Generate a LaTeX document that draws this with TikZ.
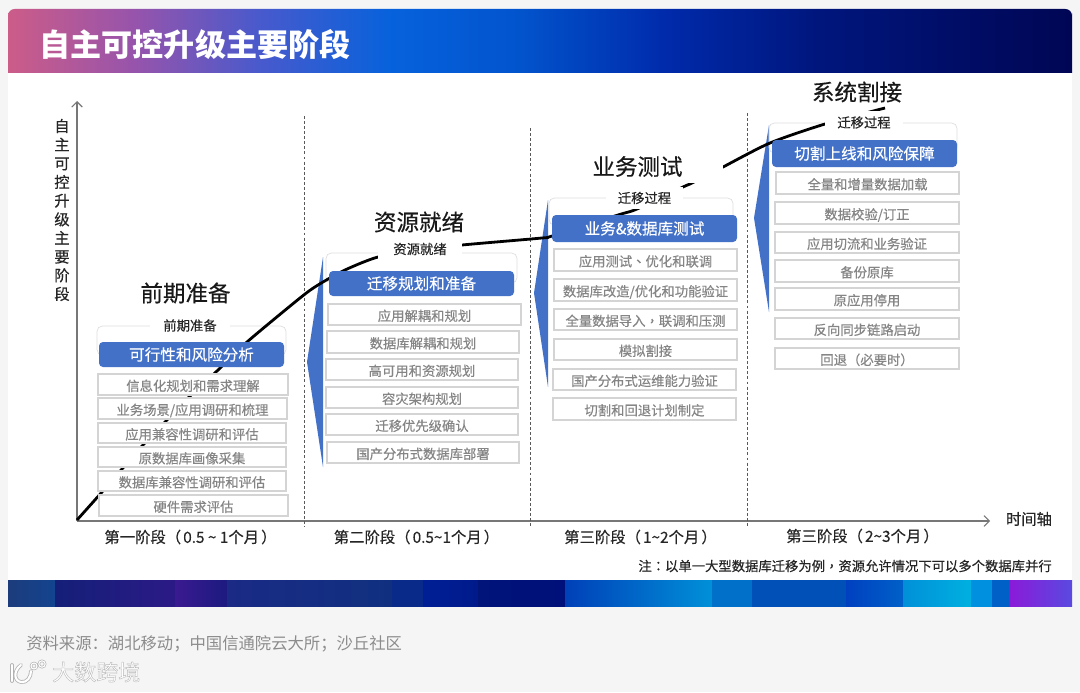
\documentclass[tikz,border=0pt]{standalone}
\usepackage{fontspec}
\setmainfont{Noto Sans CJK SC}
\newfontfamily\medfont[FakeBold=0.35]{Noto Sans CJK SC}
\newfontfamily\pnmed[FakeBold=0.35]{Noto Sans CJK TC}
\newcommand\til{\char"7E\relax}
\newcommand\pgap{\hspace{1.6pt}}
\usetikzlibrary{arrows.meta}
\definecolor{pagebg}{HTML}{F5F5F5}
\definecolor{headblue}{HTML}{4371C8}
\definecolor{axisgray}{HTML}{777777}
\definecolor{rowline}{HTML}{D4D4D4}
\definecolor{rowtext}{HTML}{858585}
\definecolor{frameline}{HTML}{DDDDDD}
\definecolor{darktext}{HTML}{262626}
\definecolor{ga}{HTML}{CC5C88}
\definecolor{gb}{HTML}{9654AC}
\definecolor{gc}{HTML}{465ACD}
\definecolor{gd}{HTML}{0662DC}
\definecolor{ge}{HTML}{0254CD}
\definecolor{gf}{HTML}{002AAA}
\definecolor{gg}{HTML}{00167D}
\definecolor{gh}{HTML}{000654}
% positions: 25bp + 50bp * (x-8)/1064
\pgfdeclarehorizontalshading{titlegrad}{100bp}{
 color(0bp)=(ga);
 color(25bp)=(ga);
 color(31bp)=(gb);
 color(37bp)=(gc);
 color(43bp)=(gd);
 color(49bp)=(ge);
 color(56bp)=(gf);
 color(63bp)=(gg);
 color(75bp)=(gh);
 color(100bp)=(gh)}
\newcommand\pbox[7][]{%
 \pgfmathsetlengthmacro\boxw{(#5-#3)*0.75}%
 \pgfmathsetlengthmacro\boxh{(#6-#4)*0.75}%
 \node[#1,minimum width=\boxw,minimum height=\boxh] (#2) at ({(#3+#5)/2},{(#4+#6)/2}) {#7};}
\tikzset{
 rowbox/.style={draw=rowline,line width=0.8pt,fill=white,inner sep=0pt,text=rowtext,text height=9.6pt,text depth=0pt,font=\medfont\fontsize{10}{12}\selectfont},
 headbox/.style={fill=headblue,rounded corners=3pt,inner sep=0pt,text=white,font=\medfont\fontsize{11.7}{14}\selectfont},
 framebox/.style={draw=frameline,line width=0.5pt,rounded corners=4pt,inner sep=0pt},
 tag/.style={fill=white,inner sep=0pt,text=darktext,font=\medfont\fontsize{10}{12}\selectfont},
 stagetitle/.style={inner sep=0pt,text=black!90,font=\medfont\fontsize{16.9}{20}\selectfont},
 stagelabel/.style={inner sep=0pt,text=darktext,font=\medfont\fontsize{11.5}{14}\selectfont},
 axisline/.style={draw=axisgray,line width=0.8pt,-{Straight Barb[length=4pt,width=8pt]}},
 divider/.style={draw=black!65,line width=0.6pt,dash pattern=on 2.2pt off 1.6pt},
 wedge/.style={fill=headblue},
 curveline/.style={draw=black,line width=2.1pt,line join=round},
}
\begin{document}
\begin{tikzpicture}[x=0.75pt,y=-0.75pt]
\useasboundingbox (0,0) rectangle (1080,692);
\fill[pagebg] (0,0) rectangle (1080,692);
% panel and title band
\fill[white] (8,73) rectangle (1072,580);
\path[shading=titlegrad,rounded corners=5pt] (8,73) [sharp corners] -- (8,20) [rounded corners=5pt] -- (8,9) -- (1072,9) -- (1072,20) [sharp corners] -- (1072,73) -- cycle;
\node[inner sep=0pt,text=white,font=\fontsize{23.3}{28}\bfseries\selectfont] (maintitle) at (195,45) {自主可控升级主要阶段};
% bottom colour bar
\foreach \xa/\xb/\ca/\cb in {
 8/55/1C3C7C/13448F, 55/175/141F78/2B1A86, 175/227/3A1A90/1C1A80, 227/392/1A2A85/10307F,
 392/423/0A2A8A/0A2A8A, 423/478/001F96/001A8A, 478/565/00147A/00107A, 565/712/0040B8/0090D8,
 712/752/0070C8/0070C8, 752/846/0050B8/0050B8, 846/903/0040C0/0060C8, 903/971/0090D8/00B0E0,
 971/992/0090E0/0090E0, 992/1009/0060C8/0060C8, 1009/1072/8A1AD8/5A4AE0}{
 \definecolor{ca}{HTML}{\ca}\definecolor{cb}{HTML}{\cb}
 \shade[left color=ca,right color=cb] (\xa,580) rectangle (\xb,606);
}
% axes
\coordinate (origin) at (77,521);
\coordinate (ytop) at (77,101);
\coordinate (xend) at (990,521);
\draw[axisline] (origin) -- (ytop);
\draw[axisline] (origin) -- (xend);
\node[inner sep=0pt,align=center,text=darktext,font=\medfont\fontsize{11.5}{14}\selectfont] (ylabel) at (62,210) {自\\主\\可\\控\\升\\级\\主\\要\\阶\\段};
\node[stagelabel] (xlabel) at (1029,519) {时间轴};
% dividers
\foreach \n/\x/\yt in {a/304/116,b/530/128,c/747/113}{
 \coordinate (div\n t) at (\x,\yt);
 \coordinate (div\n b) at (\x,527);
 \draw[divider] (div\n t) -- (div\n b);
}
% wedges
\fill[wedge] (323,257) -- (307,362) -- (323,467) -- cycle;
\fill[wedge] (548,200) -- (534,293) -- (548,387) -- cycle;
\fill[wedge] (769,125) -- (754,218) -- (769,312) -- cycle;
% dotted frames
\pbox[framebox]{fa}{97}{326}{286}{355}{}
\pbox[framebox]{fb}{326}{253}{517}{283}{}
\pbox[framebox]{fc}{549}{198}{733}{225}{}
\pbox[framebox]{fd}{769}{123}{957}{153}{}
% progress curve
\draw[curveline] plot[smooth,tension=0.45] coordinates {(77,520) (102,492) (122,469) (143,445) (166,421) (189,397) (217,371) (247,342) (300,298) (318,285) (345,270) (378,257) (420,250) (462,245) (542,238) (552,236) (618,215) (637,209) (683,187) (692,183) (723,167) (770,143) (825,124) (885,108)};
% stage titles
\pbox[stagetitle]{ta}{141}{280}{230}{306}{前期准备}
\pbox[stagetitle]{tb}{374}{209}{464}{235}{资源就绪}
\pbox[stagetitle,fill=white]{tc}{552}{150}{723}{183}{业务测试}
\pbox[stagetitle]{td}{812}{79}{902}{105}{系统割接}
% tags on frames
\pbox[tag]{ga}{150}{314}{230}{337}{前期准备}
\pbox[tag]{gb}{378}{238}{462}{260}{资源就绪}
\pbox[tag]{gc}{606}{187}{683}{209}{迁移过程}
\pbox[tag]{gd}{825}{111}{903}{134}{迁移过程}
% heads
\pbox[headbox]{ha}{99}{342}{284}{367}{可行性和风险分析}
\pbox[headbox]{hb}{329}{271}{514}{296}{迁移规划和准备}
\pbox[headbox]{hc}{552}{215}{737}{242}{业务\&数据库测试}
\pbox[headbox]{hd}{772}{140}{957}{167}{切割上线和风险保障}
% stage 1 rows
\pbox[rowbox]{a1}{98}{374}{288}{395}{信息化规划和需求理解}
\pbox[rowbox]{a2}{98}{398}{287}{419}{业务场景/应用调研和梳理}
\pbox[rowbox]{a3}{98}{423}{286}{443}{应用兼容性调研和评估}
\pbox[rowbox]{a4}{98}{447}{286}{467}{原数据库画像采集}
\pbox[rowbox]{a5}{98}{471}{286}{491}{数据库兼容性调研和评估}
\pbox[rowbox]{a6}{99}{495}{288}{516}{硬件需求评估}
% stage 2 rows
\pbox[rowbox]{b1}{328}{304}{521}{325}{应用解耦和规划}
\pbox[rowbox]{b2}{327}{331}{519}{353}{数据库解耦和规划}
\pbox[rowbox]{b3}{326}{359}{518}{380}{高可用和资源规划}
\pbox[rowbox]{b4}{326}{387}{518}{408}{容灾架构规划}
\pbox[rowbox]{b5}{326}{414}{518}{435}{迁移优先级确认}
\pbox[rowbox]{b6}{327}{442}{519}{463}{国产分布式数据库部署}
% stage 3 rows
\pbox[rowbox]{c1}{554}{249}{737}{271}{应用测试{\pnmed 、}优化和联调}
\pbox[rowbox]{c2}{554}{279}{737}{301}{数据库改造/优化和功能验证}
\pbox[rowbox]{c3}{554}{309}{737}{330}{全量数据导入{\pnmed ，}联调和压测}
\pbox[rowbox]{c4}{554}{339}{737}{360}{模拟割接}
\pbox[rowbox]{c5}{553}{369}{736}{390}{国产分布式运维能力验证}
\pbox[rowbox]{c6}{553}{398}{736}{420}{切割和回退计划制定}
% stage 4 rows
\pbox[rowbox]{d1}{776}{172}{959}{194}{全量和增量数据加载}
\pbox[rowbox]{d2}{775}{202}{959}{224}{数据校验/订正}
\pbox[rowbox]{d3}{775}{232}{959}{253}{应用切流和业务验证}
\pbox[rowbox]{d4}{775}{260}{959}{282}{备份原库}
\pbox[rowbox]{d5}{775}{288}{959}{310}{原应用停用}
\pbox[rowbox]{d6}{775}{318}{959}{339}{反向同步链路启动}
\pbox[rowbox]{d7}{775}{348}{959}{369}{回退{\pnmed （}必要时{\pnmed ）}}
% period labels
\node[stagelabel] (pa) at (190.5,537) {第一阶段{\pnmed （}\pgap 0.5 \til\ 1个月\pgap{\pnmed ）}};
\node[stagelabel] (pb) at (416.5,537) {第二阶段{\pnmed （}\pgap 0.5\til 1个月\pgap{\pnmed ）}};
\node[stagelabel] (pc) at (640.5,537) {第三阶段{\pnmed （}\pgap 1\til 2个月\pgap{\pnmed ）}};
\node[stagelabel] (pd) at (862.5,536) {第三阶段{\pnmed （}\pgap 2\til 3个月\pgap{\pnmed ）}};
\node[inner sep=0pt,anchor=east,text=darktext,font=\medfont\fontsize{10}{12}\selectfont] (note) at (1052,566) {注{\pnmed ：}以单一大型数据库迁移为例{\pnmed ，}资源允许情况下可以多个数据库并行};
% footer
\node[inner sep=0pt,anchor=west,text=black!45,font=\fontsize{12.25}{15}\selectfont] (source) at (26,644) {资料来源：湖北移动；中国信通院云大所；沙丘社区};
% watermark logo
\begin{scope}[line cap=round]
 \draw[black!30,line width=2.8pt] (21,665) .. controls (13,671) and (14,681) .. (21,682) .. controls (27,683) and (31,677) .. (31,671);
 \draw[black!30,line width=2.8pt] (12,665) -- (12,681);
 \draw[black!30,line width=1.8pt] (34,666) circle (3) (42,664) circle (3.2);
 \draw[white,line width=1.6pt] (21,665) .. controls (13,671) and (14,681) .. (21,682) .. controls (27,683) and (31,677) .. (31,671);
 \draw[white,line width=1.6pt] (12,665) -- (12,681);
 \draw[white,line width=0.8pt] (34,666) circle (3) (42,664) circle (3.2);
\end{scope}
\node[inner sep=0pt,anchor=west,text=white,font=\fontsize{16.5}{20}\selectfont] (mark) at (52,672) {\special{pdf:code 2 Tr 0.3 w 0.72 0.72 0.72 RG}大数跨境\special{pdf:code 0 Tr 0.4 w}};
\end{tikzpicture}
\end{document}
